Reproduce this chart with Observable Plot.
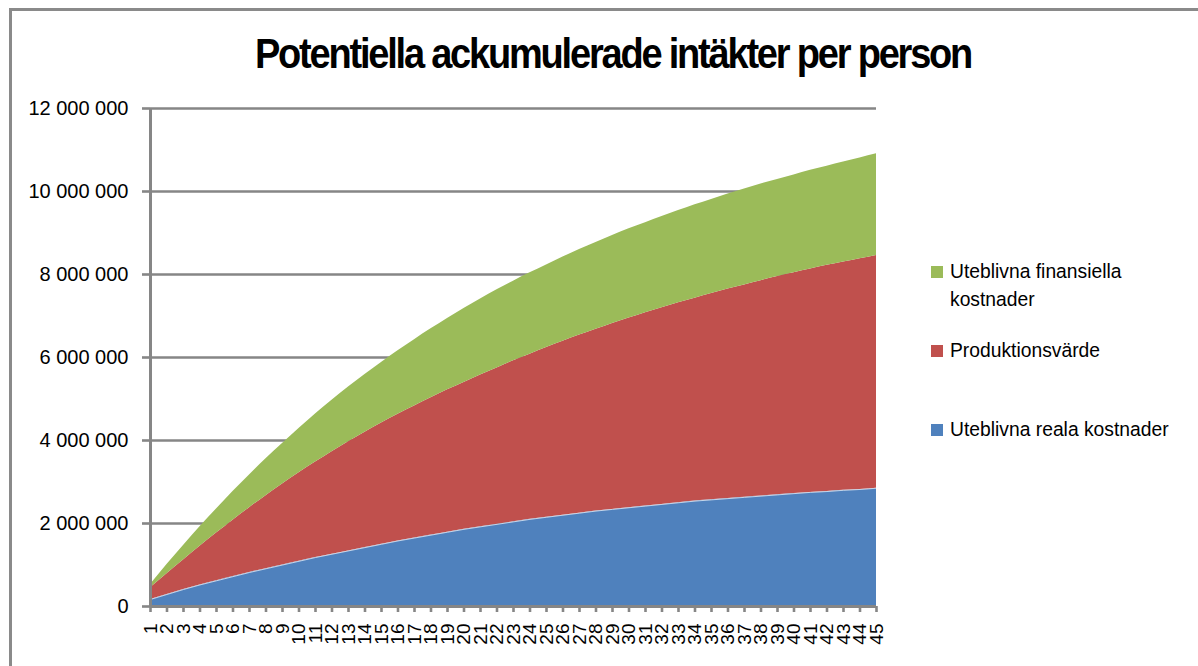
<!DOCTYPE html>
<html>
<head>
<meta charset="utf-8">
<script src="https://cdn.jsdelivr.net/npm/d3@7"></script>
<script src="https://cdn.jsdelivr.net/npm/@observablehq/plot@0.6"></script>
<style>
  html, body { margin: 0; padding: 0; background: #fff; }
  #wrap { position: relative; width: 1198px; height: 666px; overflow: hidden; font-family: "Liberation Sans", Arial, sans-serif; }
  #frame { position: absolute; left: 9px; top: 8px; width: 1300px; height: 800px; border-left: 3px solid #8a8a8a; border-top: 3px solid #8a8a8a; box-sizing: border-box; }
  #title { position: absolute; left: 613px; top: 36px; transform-origin: 50% 32px; transform: translateX(-50%) scaleY(1.12); white-space: nowrap; font-weight: bold; font-size: 38px; line-height: 38px; letter-spacing: -2.2px; color: #000; }
  #chart { position: absolute; left: 0; top: 0; }
  .leg { position: absolute; font-size: 19.3px; line-height: 28px; letter-spacing: 0px; color: #000; }
  .sw { position: absolute; width: 12px; height: 12px; }
</style>
</head>
<body>
<div id="wrap">
  <div id="frame"></div>
  <div id="title">Potentiella ackumulerade intäkter per person</div>
  <div id="chart"></div>
  <div id="legend"></div>
</div>
<script>
// Categories (years 1..45)
const years = [1,2,3,4,5,6,7,8,9,10,11,12,13,14,15,16,17,18,19,20,21,22,23,24,25,26,27,28,29,30,31,32,33,34,35,36,37,38,39,40,41,42,43,44,45];

// Series values (kronor)
const realaKostnader = [170000,290000,410000,520000,620000,720000,820000,910000,1000000,1090000,1180000,1260000,1340000,1420000,1500000,1580000,1650000,1720000,1790000,1860000,1920000,1980000,2040000,2100000,2150000,2200000,2250000,2300000,2340000,2380000,2420000,2460000,2500000,2540000,2570000,2600000,2630000,2660000,2690000,2720000,2750000,2770000,2800000,2820000,2850000];
const produktionsvarde = [280000,500000,710000,930000,1150000,1360000,1560000,1760000,1950000,2130000,2300000,2470000,2630000,2780000,2920000,3050000,3180000,3310000,3430000,3540000,3660000,3770000,3880000,3980000,4090000,4190000,4290000,4380000,4480000,4570000,4660000,4740000,4820000,4890000,4970000,5050000,5120000,5190000,5260000,5320000,5380000,5450000,5500000,5560000,5610000];
const finansiellaKostnader = [80000,220000,350000,470000,580000,690000,790000,890000,980000,1070000,1160000,1240000,1320000,1390000,1460000,1530000,1600000,1660000,1720000,1780000,1830000,1880000,1920000,1960000,1990000,2030000,2060000,2090000,2120000,2150000,2170000,2200000,2220000,2250000,2270000,2290000,2310000,2330000,2340000,2360000,2380000,2390000,2410000,2430000,2450000];

// Series names (stack order bottom to top) and colours
const seriesNames = ["Uteblivna reala kostnader", "Produktionsvärde", "Uteblivna finansiella kostnader"];
const seriesColors = ["#4F81BD", "#C0504D", "#9BBB59"];
const seriesValues = [realaKostnader, produktionsvarde, finansiellaKostnader];

// Legend labels (top to bottom as shown)
const legendLabels = [["Uteblivna finansiella", "kostnader"], ["Produktionsvärde"], ["Uteblivna reala kostnader"]];
const legendColors = ["#9BBB59", "#C0504D", "#4F81BD"];

// Y tick values
const yTicks = [0, 2000000, 4000000, 6000000, 8000000, 10000000, 12000000];

const data = [];
seriesNames.forEach((name, s) => {
  years.forEach((yr, i) => data.push({year: yr, series: name, value: seriesValues[s][i]}));
});
const bottom = years.map((yr, i) => ({year: yr, value: realaKostnader[i]}));

const fmt = d => d3.format(",")(d).replace(/,/g, " ");
const gray = "#868686";

const chart = Plot.plot({
  width: 900,
  height: 666,
  marginLeft: 150,
  marginRight: 24,
  marginTop: 108,
  marginBottom: 60,
  style: {fontFamily: "Liberation Sans, Arial, sans-serif", fontSize: "19px", background: "transparent", overflow: "visible"},
  x: {type: "linear", domain: [1, 45]},
  y: {domain: [0, 12000000]},
  color: {domain: seriesNames, range: seriesColors},
  marks: [
    Plot.gridY(yTicks, {stroke: gray, strokeOpacity: 1, strokeWidth: 2.6}),
    Plot.areaY(data, {x: "year", y: "value", fill: "series", order: seriesNames, curve: "monotone-x"}),
    Plot.lineY(bottom, {x: "year", y: "value", stroke: "#ffffff", strokeWidth: 0.9, strokeOpacity: 0.75, curve: "monotone-x"}),
    Plot.ruleX([1], {stroke: gray, strokeWidth: 3}),
    Plot.ruleY([0], {stroke: gray, strokeWidth: 3}),
    Plot.axisY({ticks: yTicks, tickFormat: fmt, tickSize: 8, tickPadding: 14, stroke: gray, strokeWidth: 2.6, fill: "#000", fontSize: 20, label: null, style: {letterSpacing: "-0.8px"}}),
    Plot.axisX({ticks: years, tickFormat: d => String(d), tickSize: 6, tickPadding: 11, tickRotate: -90, stroke: gray, strokeWidth: 2.6, fill: "#000", fontSize: 19, label: null})
  ]
});
document.getElementById("chart").appendChild(chart);

// Legend
const legend = document.getElementById("legend");
const legTops = [258, 337, 416];
legendLabels.forEach((lines, k) => {
  const sw = document.createElement("div");
  sw.className = "sw";
  sw.style.left = "931px";
  sw.style.top = (legTops[k] + 8) + "px";
  sw.style.background = legendColors[k];
  legend.appendChild(sw);
  const t = document.createElement("div");
  t.className = "leg";
  t.style.left = "950px";
  t.style.top = legTops[k] + "px";
  t.innerHTML = lines.join("<br>");
  legend.appendChild(t);
});
</script>
</body>
</html>
